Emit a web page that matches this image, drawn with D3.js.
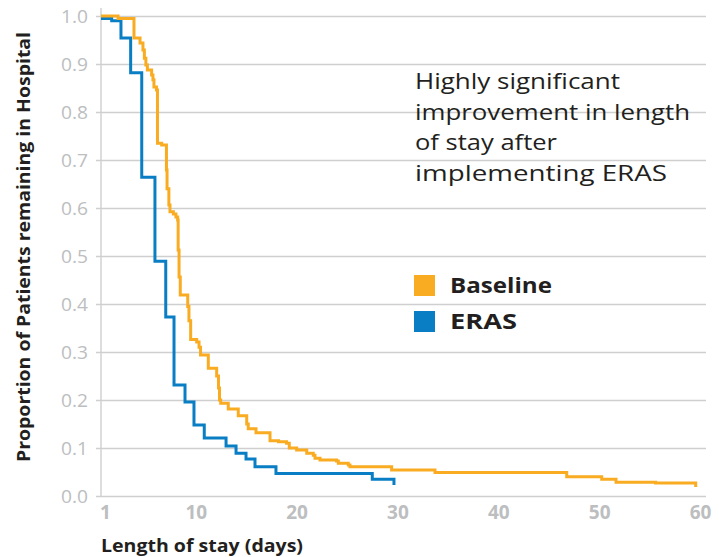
<!DOCTYPE html>
<html>
<head>
<meta charset="utf-8">
<script src="https://cdn.jsdelivr.net/npm/d3@7/dist/d3.min.js"></script>
<style>
  html, body { margin: 0; padding: 0; background: #fff; }
  svg { display: block; }
  text { font-family: "Open Sans", "Noto Sans", sans-serif; }
</style>
</head>
<body>
<svg id="chart" width="719" height="557"></svg>
<script>
// ---- data ----
const seriesNames = ["Baseline", "ERAS"];
const xTicks = [1, 10, 20, 30, 40, 50, 60];
const yTicks = [0, 0.1, 0.2, 0.3, 0.4, 0.5, 0.6, 0.7, 0.8, 0.9, 1.0];
const yTickLabels = ["0.0","0.1","0.2","0.3","0.4","0.5","0.6","0.7","0.8","0.9","1.0"];
// Kaplan-Meier style steps: [day, proportion remaining from that day on]
const baselineDays = [1, 2.69, 4.27, 4.87, 5.16, 5.3, 5.45, 5.6, 6.02, 6.15, 6.25, 6.5, 6.6, 7.02, 7.49, 7.55, 7.73, 7.84, 8.18, 8.43, 8.6, 8.65, 8.74, 8.86, 9.6, 9.72, 9.89, 10.49, 10.72, 10.87, 11.64, 12.47, 12.65, 12.75, 12.87, 13.62, 14.61, 15.45, 15.6, 16.37, 17.76, 18.6, 19.4, 19.67, 20.4, 21.4, 22.05, 22.22, 22.72, 24.35, 24.53, 25.52, 25.69, 29.82, 34.12, 47.18, 50.65, 52.07, 56, 59.97];
const baselineValues = [1.0, 0.995, 0.954, 0.944, 0.929, 0.912, 0.898, 0.8875, 0.877, 0.867, 0.852, 0.846, 0.735, 0.731, 0.679, 0.64, 0.606, 0.592, 0.5875, 0.581, 0.575, 0.5125, 0.456, 0.419, 0.395, 0.365, 0.326, 0.321, 0.31, 0.294, 0.266, 0.25, 0.225, 0.2, 0.193, 0.181, 0.167, 0.15, 0.14, 0.132, 0.115, 0.113, 0.11, 0.1, 0.096, 0.089, 0.085, 0.0785, 0.075, 0.073, 0.068, 0.0646, 0.061, 0.054, 0.049, 0.04, 0.035, 0.0285, 0.027, 0.019];
const erasDays = [1, 2.06, 2.98, 3.94, 5.04, 6.35, 7.42, 8.24, 9.33, 10.22, 11.24, 13.4, 14.39, 15.38, 16.27, 18.35, 27.9, 30.05];
const erasValues = [0.995, 0.99, 0.954, 0.882, 0.664, 0.489, 0.373, 0.231, 0.196, 0.148, 0.121, 0.104, 0.089, 0.077, 0.061, 0.047, 0.035, 0.023];
const annotationLines = ["Highly significant", "improvement in length", "of stay after", "implementing ERAS"];
const xTitle = "Length of stay (days)";
const yTitle = "Proportion of Patients remaining in Hospital";

// ---- styles / layout ----
const colors = { "Baseline": "#F9AC22", "ERAS": "#0A7EC4" };
const gridColor = "#cfcfcf";
const tickColor = "#bcbec0";
const darkText = "#231f20";
const annotationWidths = [205, 275, 142, 252];
const legendWidths = [102, 67];

const svg = d3.select("#chart");

const x = d3.scaleLinear().domain([1, 60]).range([101, 696]);
const y = d3.scaleLinear().domain([0, 1]).range([496, 16]);

// y grid + labels
const yAxis = d3.axisLeft(y).tickValues(yTicks)
  .tickSizeInner(-(706 - 101)).tickSizeOuter(0)
  .tickFormat((d, i) => yTickLabels[i]);
const gy = svg.append("g").attr("transform", "translate(101,0)").call(yAxis);
gy.select(".domain").remove();
gy.selectAll(".tick line").attr("x1", -5).attr("stroke", gridColor).attr("stroke-width", 1.4);
gy.selectAll(".tick text")
  .attr("x", -13).attr("dy", "0.36em")
  .attr("fill", tickColor)
  .attr("textLength", 27).attr("lengthAdjust", "spacingAndGlyphs")
  .style("font-size", "19px").style("font-weight", 400)
  .style("font-family", "'Open Sans', sans-serif");

// vertical axis line
svg.append("line")
  .attr("x1", 101).attr("x2", 101)
  .attr("y1", y(1) - 8).attr("y2", y(0))
  .attr("stroke", gridColor).attr("stroke-width", 1.4);

// x axis labels
const xAxis = d3.axisBottom(x).tickValues(xTicks).tickSize(0).tickFormat(d3.format("d"));
const gx = svg.append("g").attr("transform", `translate(0,${y(0)})`).call(xAxis);
gx.select(".domain").remove();
gx.selectAll(".tick text")
  .attr("y", 10).attr("dy", "0.71em").attr("dx", 4)
  .attr("fill", tickColor)
  .style("font-size", "19px").style("font-weight", 700)
  .style("font-family", "'Open Sans', sans-serif");

// curves
const line = d3.line().x(d => x(d[0])).y(d => y(d[1])).curve(d3.curveStepAfter);
const erasData = d3.zip(erasDays, erasValues);
const baseData = d3.zip(baselineDays, baselineValues);
svg.append("path").datum(erasData)
  .attr("d", line).attr("fill", "none")
  .attr("stroke", colors["ERAS"]).attr("stroke-width", 3);
svg.append("path").datum(baseData)
  .attr("d", line).attr("fill", "none")
  .attr("stroke", colors["Baseline"]).attr("stroke-width", 3);

// annotation
annotationLines.forEach((t, i) => {
  svg.append("text").attr("x", 415).attr("y", 89 + i * 30.7)
    .attr("fill", darkText)
    .attr("textLength", annotationWidths[i]).attr("lengthAdjust", "spacingAndGlyphs")
    .style("font-size", "21px").style("font-weight", 400)
    .text(t);
});

// legend
seriesNames.forEach((name, i) => {
  const yy = 275 + i * 36;
  svg.append("rect").attr("x", 414).attr("y", yy).attr("width", 21).attr("height", 21)
    .attr("fill", colors[name]);
  svg.append("text").attr("x", 450).attr("y", yy + 18)
    .attr("fill", darkText)
    .attr("textLength", legendWidths[i]).attr("lengthAdjust", "spacingAndGlyphs")
    .style("font-size", "22px").style("font-weight", 700)
    .text(name);
});

// axis titles
svg.append("text").attr("x", 101).attr("y", 552)
  .attr("fill", darkText)
  .attr("textLength", 202).attr("lengthAdjust", "spacingAndGlyphs")
  .style("font-size", "17px").style("font-weight", 700)
  .text(xTitle);
svg.append("text")
  .attr("transform", "translate(30,247) rotate(-90)")
  .attr("text-anchor", "middle")
  .attr("fill", darkText)
  .attr("textLength", 430).attr("lengthAdjust", "spacingAndGlyphs")
  .style("font-size", "17px").style("font-weight", 700)
  .text(yTitle);
</script>
</body>
</html>
